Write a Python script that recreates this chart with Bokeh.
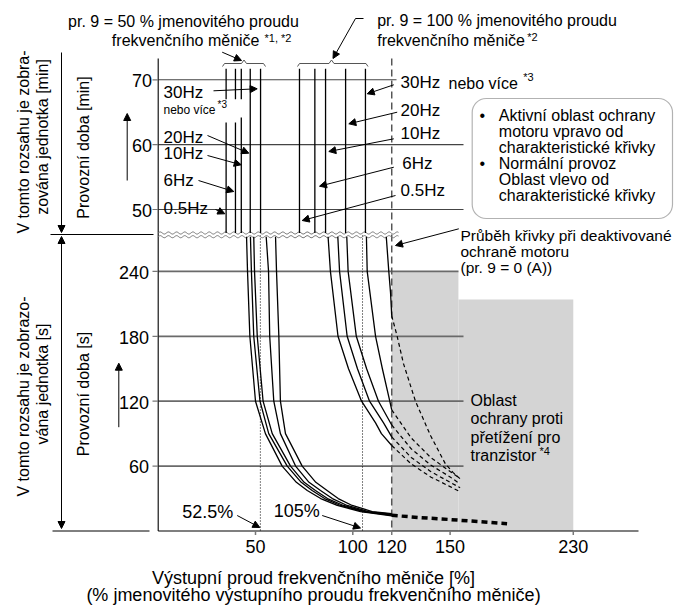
import numpy as np
from bokeh.plotting import figure
from bokeh.models import Range1d, Arrow, NormalHead, ColumnDataSource, BoxAnnotation
from bokeh.core.properties import value
from bokeh.embed import file_html
from bokeh.resources import INLINE

FONT = "Liberation Sans"

# ---------------- data ----------------
x_tick_vals = [50, 100, 120, 150, 230]
x_tick_labels = ["50", "100", "120", "150", "230"]
y_tick_sec = [60, 120, 180, 240]
y_tick_min = [50, 60, 70]
freq_labels = ["0.5Hz", "6Hz", "10Hz", "20Hz", "30Hz"]
marker_pcts = [52.5, 105]
marker_labels = ["52.5%", "105%"]
limit_pct = 120

# upper panel (minutes): operating time beyond 70 min, current [%]
up50_x = [34.9, 39.7, 42.7, 47.3, 52.6]
up100_x = [72.6, 80.5, 86.0, 96.3, 106.5]
up_top_min = 71.7

# lower panel (seconds): pr. 9 = 50 %
lo50_x = [
    [45.4, 45.9, 47.1, 50.0, 55.1, 63.7, 71.0, 76.6, 83.5, 92.0, 104.0, 120.0],
    [47.4, 47.9, 49.1, 52.3, 56.8, 66.3, 73.5, 79.1, 85.5, 93.7, 105.5, 120.0],
    [49.1, 49.5, 50.9, 53.9, 58.6, 68.0, 75.0, 80.8, 87.0, 95.2, 106.5, 120.0],
    [55.5, 56.7, 57.3, 59.4, 62.8, 70.6, 77.5, 83.4, 89.5, 97.1, 108.0, 120.0],
    [60.3, 60.8, 62.0, 62.8, 65.4, 74.0, 81.0, 86.8, 92.5, 99.7, 110.0, 120.0],
]
lo50_t = [
    [272, 240, 180, 120, 90, 60, 45, 37.4, 30, 23.6, 18, 14.0],
    [272, 240, 180, 120, 90, 60, 45, 37.4, 30, 23.6, 18, 14.5],
    [272, 240, 180, 120, 90, 60, 45, 37.4, 30, 23.6, 18, 15.0],
    [272, 240, 180, 120, 90, 60, 45, 37.4, 30, 23.6, 18, 15.5],
    [272, 240, 180, 120, 90, 60, 45, 37.4, 30, 23.6, 18, 16.0],
]

# lower panel (seconds): pr. 9 = 100 %
lo100_x = [
    [87.3, 88.5, 92.4, 97.8, 104.5, 111.7, 114.7, 120.0],
    [92.3, 93.2, 97.1, 102.4, 108.6, 115.8, 120.0],
    [96.9, 97.6, 101.8, 107.1, 113.2, 120.0],
    [107.0, 107.4, 111.7, 115.2, 119.0, 120.0],
    [117.2, 118.5, 119.4, 120.0],
]
lo100_t = [
    [272, 240, 180, 150, 120, 100, 90, 79],
    [272, 240, 180, 150, 120, 100, 87],
    [272, 240, 180, 150, 120, 98],
    [272, 240, 180, 150, 120, 112],
    [272, 240, 220, 199],
]
# continuation inside transistor protection area
dash100_x = [
    [120, 130, 140, 150, 157],
    [120, 130, 140, 150, 156.5],
    [120, 130, 140, 150, 156],
    [120, 130, 140, 150, 155],
    [120, 122.8, 126, 132.2, 140, 147.6, 152, 157.5],
]
dash100_t = [
    [79, 62, 50, 41, 36],
    [87, 68, 55, 45, 40],
    [98, 76, 61, 50, 44],
    [112, 86, 68, 55, 50],
    [199, 180, 155, 120, 88, 62, 54, 47],
]
# motor protection deactivated
off_x = [120, 135, 150, 187]
off_t = [14.5, 12.3, 10.6, 6.7]

# transistor overload protection region
trans_x = [120, 155.4, 230]
trans_top = [240, 214]


# ---------------- scales ----------------
def xm(v):
    return np.interp(np.asarray(v, float), [0, 150, 230], [0, 150, 213.3])


def ymin(m):
    return (530.5 - (209 - 6.485 * (np.asarray(m, float) - 50))) / 1.0817


def X(px):
    return (px - 157.7) / 1.946


def Y(py):
    return (530.5 - py) / 1.0817


p = figure(width=675, height=605,
           x_range=Range1d(X(0), X(675)), y_range=Range1d(Y(605), Y(0)),
           output_backend="svg", toolbar_location=None,
           x_axis_type=None, y_axis_type=None, min_border=0)
p.outline_line_color = None
p.background_fill_color = "white"

# gray transistor region
p.quad(left=xm(trans_x[:-1]), right=xm(trans_x[1:]), bottom=[0, 0], top=trans_top,
       fill_color="#d4d4d4", line_color=None)

# grid lines
p.segment(x0=[0] * 4, y0=y_tick_sec, x1=[X(463), X(463), X(463), X(458)], y1=y_tick_sec,
          line_color="#6a6a6a", line_width=1.7)
ym_ticks = ymin(y_tick_min)
p.segment(x0=[0] * 3, y0=ym_ticks, x1=[X(463), X(463), X(396)], y1=ym_ticks,
          line_color="#444444", line_width=1.1)

# axes
p.segment(x0=[0, 0], y0=[Y(58), 0], x1=[0, X(638)], y1=[0, 0], line_color="black", line_width=1.1)
p.segment(x0=xm(x_tick_vals), y0=[0] * 5, x1=xm(x_tick_vals), y1=[Y(534.5)] * 5,
          line_color="#777777", line_width=1.5)
yt_all = list(y_tick_sec) + list(ym_ticks)
p.segment(x0=[X(152)] * len(yt_all), y0=yt_all, x1=[0] * len(yt_all), y1=yt_all,
          line_color="#777777", line_width=1.2)

# left bracket lines
p.segment(x0=[X(50), X(52)], y0=[Y(234), 0], x1=[X(153), X(149)], y1=[Y(234), 0],
          line_color="black", line_width=1)

# dashed 120 % line and dotted markers
p.segment(x0=[xm(limit_pct)], y0=[Y(58)], x1=[xm(limit_pct)], y1=[0],
          line_color="#555555", line_width=1.5, line_dash="7 4")
p.segment(x0=marker_pcts, y0=[Y(235)] * 2, x1=marker_pcts, y1=[0, 0],
          line_color="black", line_width=1, line_dash="1 2")

# wavy break lines
wx = np.linspace(0, X(398), 240)
for wy in (Y(232.5), Y(236.2)):
    p.line(wx, wy + 1.0 * np.sin(2 * np.pi * wx / 4.2), line_color="#777777", line_width=1)

# upper vertical lines
top = float(ymin(up_top_min))
bot = Y(232.5)
x0s, y0s, x1s, y1s = [], [], [], []
gaps = {0: (63.4, 67.0), 1: (63.4, 67.0), 2: (64.2, 67.0)}
for i, xv in enumerate(up50_x):
    if i in gaps:
        lo, hi = gaps[i]
        x0s += [xv, xv]; y0s += [top, float(ymin(lo))]; x1s += [xv, xv]; y1s += [float(ymin(hi)), bot]
    else:
        x0s.append(xv); y0s.append(top); x1s.append(xv); y1s.append(bot)
for xv in up100_x:
    x0s.append(xv); y0s.append(top); x1s.append(xv); y1s.append(bot)
p.segment(x0=x0s, y0=y0s, x1=x1s, y1=y1s, line_color="black", line_width=1.3)

# curves
p.multi_line(xs=[xm(c) for c in lo50_x], ys=lo50_t, line_color="black", line_width=1.3)
p.multi_line(xs=[xm(c) for c in lo100_x], ys=lo100_t, line_color="black", line_width=1.3)
p.multi_line(xs=[xm(c) for c in dash100_x], ys=dash100_t, line_color="black",
             line_width=1.2, line_dash="4 3")
p.line(xm(off_x), off_t, line_color="black", line_width=3.5, line_dash="6 4")

# braces
for pts in ([(222, 66), (224, 63), (241, 63), (243.5, 59.5), (246, 63), (263, 63), (265, 66)],
            [(297, 66), (299, 63), (328.5, 63), (331, 59.5), (333.5, 63), (365.5, 63), (367.5, 66)]):
    p.line([X(a) for a, b in pts], [Y(b) for a, b in pts], line_color="#555555", line_width=1)
p.line([X(363), X(355)], [Y(18), Y(18)], line_color="black", line_width=1)

# legend box
p.add_layout(BoxAnnotation(left=X(471.7), right=X(672), top=Y(98), bottom=Y(218),
                           fill_color="white", fill_alpha=1, line_color="black",
                           line_width=1.2, border_radius=14, level="underlay"))

# arrows
arr = [
    (213, 90.3, 256.7, 88.3), (207, 135, 248.3, 152.7), (207, 155, 240.7, 164.3),
    (198, 180, 233.3, 191), (215, 209, 224.3, 213.3),
    (393.3, 84.3, 366.7, 93.3), (396.7, 111.7, 348.3, 123.3), (393.3, 138.3, 328.3, 151),
    (393.3, 166.7, 319, 185.7), (395, 195, 301.7, 220),
    (221.7, 51.7, 241, 60), (355, 18, 332.5, 58), (458.3, 228.3, 395, 245),
    (236.7, 515, 259.3, 527), (321.7, 515, 360, 527.5),
    (126.7, 180, 126.7, 113), (118.3, 426.7, 118.3, 362.7), (61, 52, 61, 232),
]
src = ColumnDataSource(dict(x_start=[X(a[0]) for a in arr], y_start=[Y(a[1]) for a in arr],
                            x_end=[X(a[2]) for a in arr], y_end=[Y(a[3]) for a in arr]))
p.add_layout(Arrow(end=NormalHead(size=7, fill_color="black", line_color="black", line_width=1),
                   x_start="x_start", y_start="y_start", x_end="x_end", y_end="y_end",
                   source=src, line_color="black", line_width=1))
p.add_layout(Arrow(start=NormalHead(size=7, fill_color="black", line_color="black", line_width=1),
                   end=NormalHead(size=7, fill_color="black", line_color="black", line_width=1),
                   x_start=X(61), y_start=Y(236), x_end=X(61), y_end=Y(528),
                   line_color="black", line_width=1))


def txt(x, y, t, size, align="left", angle=0.0):
    p.text(x=[x], y=[y], text=[t], text_font=value(FONT), text_font_size=value(f"{size}px"),
           text_align=align, text_baseline="middle", angle=angle, text_color="black")


# header texts
txt(X(183), Y(20.5), "pr. 9 = 50 % jmenovitého proudu", 16, "center")
txt(X(259), Y(40), "frekvenčního měniče", 16, "right")
txt(X(264), Y(37.5), "*1, *2", 11)
txt(X(376.7), Y(19.5), "pr. 9 = 100 % jmenovitého proudu", 16)
txt(X(376.7), Y(39.5), "frekvenčního měniče", 16)
txt(X(526.7), Y(36.5), "*2", 11)

# tick labels
for m in y_tick_min:
    txt(X(151.5), float(ymin(m)) - 0.8, str(m), 18, "right")
for s in y_tick_sec:
    txt(X(148.5), s - 0.8, str(s), 18, "right")
for v, lab in zip(x_tick_vals, x_tick_labels):
    txt(float(xm(v)), Y(546), lab, 18, "center")

# frequency labels, left group
left_y = [207.7, 180, 153.3, 136.7, 91.7]
for lab, yy in zip(freq_labels, left_y):
    txt(X(163), Y(yy), lab, 17)
txt(X(163), Y(109), "nebo více", 12)
txt(X(217), Y(104), "*3", 10)
# right group
right_y = [190, 163.3, 133.3, 110, 81.7]
right_x = [400, 401.7, 400, 400, 400]
for lab, xx, yy in zip(freq_labels, right_x, right_y):
    txt(X(xx), Y(yy), lab, 17)
txt(X(448), Y(83), "nebo více", 16)
txt(X(522.7), Y(76), "*3", 11)

# box text
for t, yy in zip(["Aktivní oblast ochrany", "motoru vpravo od", "charakteristické křivky",
                  "Normální provoz", "Oblast vlevo od", "charakteristické křivky"],
                 [115, 130.5, 147, 163.3, 179, 195]):
    txt(X(498.3), Y(yy), t, 16)
for yy in (115, 163.3):
    txt(X(481.7), Y(yy), "•", 16, "center")

# right annotations
for t, yy in zip(["Průběh křivky při deaktivované", "ochraně motoru", "(pr. 9 = 0 (A))"],
                 [235, 251, 267]):
    txt(X(460), Y(yy), t, 15.5)
for t, yy in zip(["Oblast", "ochrany proti", "přetížení pro", "tranzistor"],
                 [400, 418.3, 436.7, 455]):
    txt(X(470), Y(yy), t, 16)
txt(X(539), Y(450), "*4", 11)

# marker labels
txt(X(181.7), Y(511.7), marker_labels[0], 18)
txt(X(273.3), Y(510), marker_labels[1], 18)

# rotated left labels
R = np.pi / 2
txt(X(23), Y(141.5), "V tomto rozsahu je zobra-", 16, "center", R)
txt(X(42), Y(136.5), "zována jednotka [min]", 16, "center", R)
txt(X(82.5), Y(147), "Provozní doba [min]", 16, "center", R)
txt(X(22.5), Y(396), "V tomto rozsahu je zobrazo-", 16, "center", R)
txt(X(42), Y(383.5), "vána jednotka [s]", 16, "center", R)
txt(X(83), Y(393.5), "Provozní doba [s]", 16, "center", R)

# x axis title
txt(X(313), Y(577), "Výstupní proud frekvenčního měniče [%]", 18, "center")
txt(X(313), Y(594.5), "(% jmenovitého výstupního proudu frekvenčního měniče)", 18, "center")

open("out.html", "w").write(file_html(p, INLINE))
